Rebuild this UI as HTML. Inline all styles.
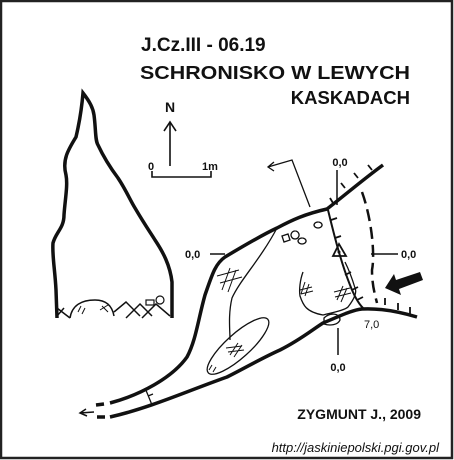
<!DOCTYPE html>
<html><head><meta charset="utf-8"><style>
html,body{margin:0;padding:0;background:#fff;}
svg{display:block;}
text{font-family:"Liberation Sans",Arial,sans-serif;fill:#111;}
</style></head><body>
<svg width="454" height="460" viewBox="0 0 454 460" xmlns="http://www.w3.org/2000/svg">
<rect x="1" y="1" width="451" height="457" fill="#fff" stroke="#222" stroke-width="2.5"/>
<g font-weight="bold">
<text x="141" y="51" font-size="19">J.Cz.III - 06.19</text>
<text x="140" y="79" font-size="18.5" textLength="270" lengthAdjust="spacingAndGlyphs">SCHRONISKO W LEWYCH</text>
<text x="410" y="104" font-size="18.5" text-anchor="end">KASKADACH</text>
</g>
<g stroke="#111" stroke-width="1.6" fill="none">
<line x1="170" y1="166" x2="170" y2="123"/><polyline points="164,131 170,122 176,131"/>
</g>
<text x="170" y="112" font-size="14" font-weight="bold" text-anchor="middle">N</text>
<g stroke="#111" stroke-width="1.6" fill="none">
<polyline points="152,171 152,177 211,177 211,171"/>
</g>
<text x="148" y="170" font-size="11" font-weight="bold">0</text>
<text x="202" y="170" font-size="11" font-weight="bold">1m</text>

<g fill="none" stroke="#111">
<path stroke-width="3.5" d="M57,318 L56,290 C55,270 52,255 53,243 C56,232 64,228 64,215 C65,200 68,185 66,175 C62,160 68,150 76,137 C80,120 82,105 83,93 C90,102 93,108 94,115 C96,130 95,140 98,145 C105,160 112,170 118,178 C126,190 130,200 135,208 C145,225 150,232 155,240 C163,252 170,265 172,282 L172,318"/>
<path stroke-width="1.5" d="M70,318 C72,305 82,300 95,300 C105,300 112,305 114,316 M57,308 L70,318 M114,312 L126,302 L140,316 M126,318 L140,304 L152,316 M142,318 L156,304 L170,316 M57,316 L64,308"/>
<rect x="146" y="300" width="8" height="5" stroke-width="1.2"/><circle cx="160" cy="300" r="4" stroke-width="1.2"/>
<path stroke-width="1" d="M78,312 l3,-6 M82,314 l3,-6 M100,310 l8,-5 M102,306 l6,6"/>
</g>

<g fill="none" stroke="#111">
<path stroke-width="3.5" d="M110,403 C140,395 172,378 187,357 C196,340 198,320 205,295 C212,275 215,264 225,257 C245,245 262,235 277,228 C292,220 305,214 327,209 C345,195 365,178 383,165"/>
<path stroke-width="3.5" d="M96,405 L104,404 M97,417 L105,417"/>
<path stroke-width="3.5" d="M110,417 C150,408 190,390 227,377 C245,368 262,358 280,350 C300,340 312,330 323,323 C340,316 352,310 362,309 C380,308 400,312 417,317"/>
<path stroke-width="1.5" d="M80,413 L94,412 M86,409 L80,413 L87,416"/>
<path stroke-width="1.3" d="M145,388 C148,395 150,400 152,405 M148,396 l5,-2"/>
<path stroke-width="1.3" d="M277,228 C260,260 240,280 232,298 C228,315 230,330 230,340"/>
<ellipse cx="238" cy="346" rx="40" ry="12" transform="rotate(-42 238 346)" stroke-width="1.3"/>
<path stroke-width="1" d="M230,355 l8,-12 M234,357 l8,-12 M226,348 l16,-2 M228,352 l16,-2 M209,370 l3,-5 M213,372 l3,-5"/>
<path stroke-width="1" d="M230,268 l-8,22 M236,270 l-8,22 M217,276 l22,-6 M220,283 l22,-6"/>
<path stroke-width="1.3" d="M303,272 C300,280 299,290 300,296 C303,305 306,312 323,315 C335,312 345,310 348,307 C355,298 357,292 355,288 C352,278 348,268 345,262"/>
<path stroke-width="1" d="M305,282 l-4,12 M309,284 l-4,12 M300,290 l12,-3 M301,294 l12,-3 M343,286 l-6,14 M347,288 l-6,14 M334,292 l16,-4 M335,297 l16,-4"/>
<path stroke-width="1.3" d="M324,318 C330,312 340,313 340,320 C338,325 330,326 324,324 Z"/>
<path stroke-width="1.3" d="M282,236 l6,-2 2,6 -6,2 Z M295,231 a4,4 0 1,0 0.1,0 M302,238 a4,3 0 1,0 0.1,0 M318,222 a4,3 0 1,0 0.1,0"/>
<path stroke-width="2" d="M328,210 C333,230 340,260 350,285 C355,298 360,305 363,308"/>
<path stroke-width="1.8" d="M331,220 l6,-2 M335,238 l6,-2 M345,275 l6,-3 M352,290 l6,-3 M357,300 l6,-3 M345,188 l-4,-5 M358,178 l-4,-5 M372,170 l-4,-5 M385,305 l0,-7 M398,310 l0,-7 M410,314 l0,-7 M333,203 l-3,-5"/>
<path stroke-width="2.5" stroke-dasharray="12,6" d="M362,192 C372,220 375,255 372,270 C372,285 375,295 377,303"/>
<path stroke-width="1.3" d="M310,207 L292,160 L268,167 M274,162 L268,167 L274,171"/>
<polygon points="339,244 333,256 346,256" stroke-width="1.8"/><circle cx="339" cy="252" r="1" fill="#111"/>
<polygon points="385,288 394,274 396,280 420,272 423,280 399,289 401,295" fill="#111" stroke="none"/>
<path stroke-width="1.5" d="M337,170 L337,205 M210,254 L225,254 M371,254 L398,254 M338,328 L338,355"/>
</g>
<g font-size="11" font-weight="bold">
<text x="340" y="166" text-anchor="middle">0,0</text>
<text x="185" y="258">0,0</text>
<text x="401" y="258">0,0</text>
<text x="338" y="371" text-anchor="middle">0,0</text>
<text x="364" y="328" font-weight="normal">7,0</text>
</g>
<text x="421" y="419" font-size="14" font-weight="bold" text-anchor="end">ZYGMUNT J., 2009</text>
<text x="439" y="452" font-size="13" font-style="italic" text-anchor="end">http://jaskiniepolski.pgi.gov.pl</text>
</svg>
</body></html>
